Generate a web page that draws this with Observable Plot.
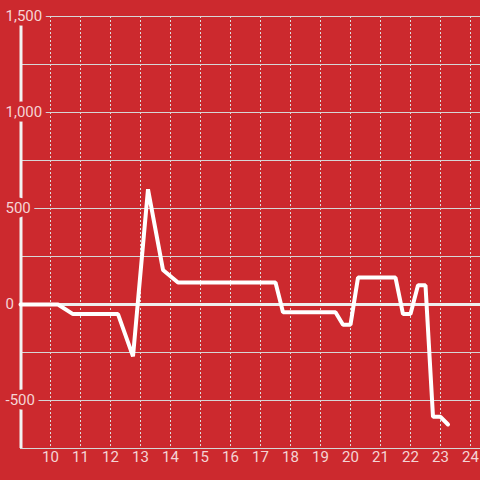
<!DOCTYPE html>
<html>
<head>
<meta charset="utf-8">
<script src="https://cdn.jsdelivr.net/npm/d3@7"></script>
<script src="https://cdn.jsdelivr.net/npm/@observablehq/plot@0.6"></script>
<style>
  html, body { margin: 0; padding: 0; background: #cc292e; }
  #chart { width: 480px; height: 480px; }
</style>
</head>
<body>
<div id="chart"></div>
<script>
const hours  = [9, 10.25, 10.75, 12.25, 12.75, 13.25, 13.75, 14.25, 17.5, 17.75, 19.5, 19.75, 20, 20.25, 21.5, 21.75, 22, 22.25, 22.5, 22.75, 23, 23.25];
const values = [0, 0, -50, -50, -270, 600, 180, 115, 115, -40, -40, -105, -105, 140, 140, -50, -50, 100, 100, -585, -585, -625];
const xTicks = [10, 11, 12, 13, 14, 15, 16, 17, 18, 19, 20, 21, 22, 23, 24];
const yGrid = [-750, -500, -250, 250, 500, 750, 1000, 1250, 1500];
const yTickValues = [-500, 0, 500, 1000, 1500];
const yTickLabels = ["-500", "0", "500", "1,000", "1,500"];

const bg = "#cc292e";
const labelColor = "#f5d4d5";
const data = hours.map((h, i) => ({h, v: values[i]}));
const yLabels = yTickValues.map((v, i) => ({v, t: yTickLabels[i]}));

const chart = Plot.plot({
  width: 480,
  height: 480,
  marginLeft: 20,
  marginRight: 0,
  marginTop: 16,
  marginBottom: 32,
  style: {background: bg, fontFamily: "Roboto, sans-serif", fontSize: "15px", overflow: "visible"},
  x: {domain: [9, 9 + 460 / 30], axis: null},
  y: {domain: [-750, 1500], axis: null},
  marks: [
    Plot.ruleX(xTicks, {stroke: "#dddddd", strokeWidth: 1, strokeDasharray: "2,2"}),
    Plot.ruleY(yGrid, {stroke: "#d6d6d6", strokeWidth: 1}),
    Plot.ruleY([0], {stroke: "#eeeeee", strokeWidth: 3, dx: 0}),
    Plot.ruleX([9], {stroke: "#f2f2f2", strokeWidth: 3, dx: 0.5}),
    Plot.line(data, {x: "h", y: "v", stroke: "#ffffff", strokeWidth: 4, strokeLinejoin: "miter"}),
    Plot.text(yLabels, {x: () => 9, y: "v", text: "t", dx: -15, textAnchor: "start", fill: labelColor,
      stroke: bg, strokeWidth: 9, strokeLinejoin: "round", paintOrder: "stroke", fontSize: 15}),
    Plot.text(xTicks, {x: d => d, frameAnchor: "bottom", dy: 13, text: d => String(d), fill: labelColor, fontSize: 15})
  ]
});
document.getElementById("chart").appendChild(chart);
</script>
</body>
</html>
